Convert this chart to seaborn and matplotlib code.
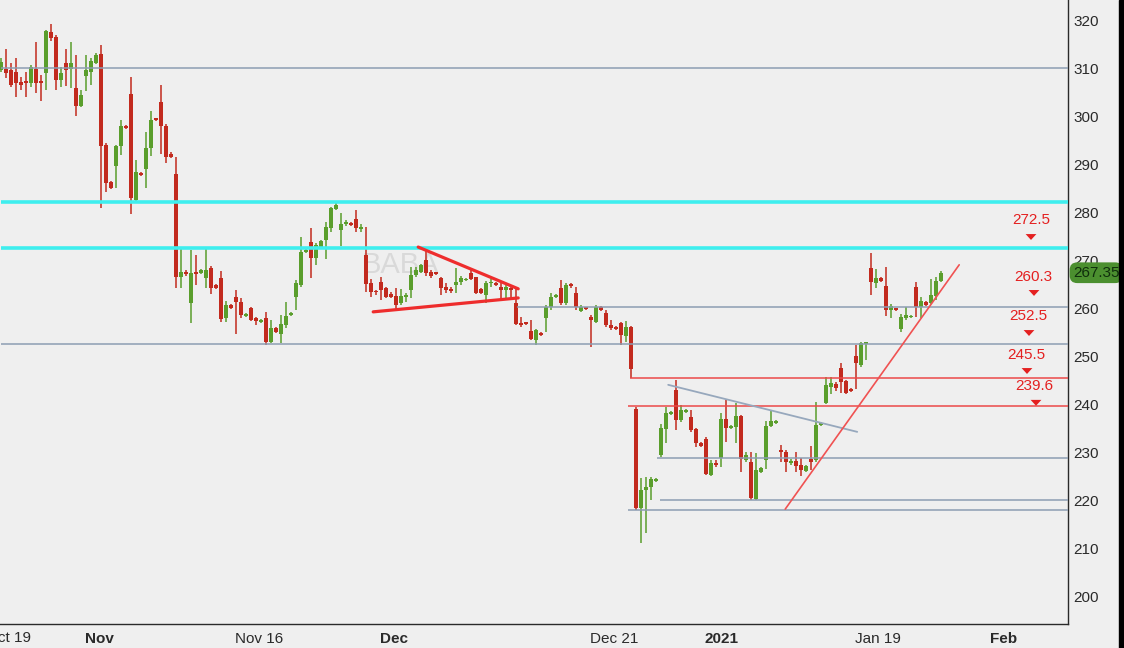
import numpy as np
import pandas as pd
import matplotlib
matplotlib.use("Agg")
import matplotlib.pyplot as plt
from matplotlib.patches import Rectangle
import matplotlib.transforms as mtransforms
import seaborn as sns

# ---------------- data (BABA, ~3 bars per trading day) ----------------
opens = [
    309.6, 309.8, 309.6, 309.2, 307.1, 307.3, 306.9, 309.8, 307.3, 309.0,
    317.5, 316.5, 307.5, 311.0, 309.8, 305.8, 302.1, 308.3, 309.2, 311.0,
    312.9, 294.0, 286.2, 289.6, 293.7, 297.9, 304.6, 282.5, 288.1, 289.0,
    293.3, 299.4, 302.9, 297.9, 292.1, 287.9, 266.5, 267.5, 261.0, 267.5,
    267.3, 266.2, 268.3, 264.8, 266.2, 257.9, 260.6, 262.3, 261.2, 258.3,
    260.0, 257.9, 257.1, 257.9, 252.9, 255.8, 254.6, 256.5, 258.5, 262.3,
    264.8, 271.7, 273.8, 270.4, 272.7, 274.2, 276.7, 280.6, 276.2, 277.5,
    277.7, 278.5, 276.5, 271.0, 265.2, 263.5, 265.4, 264.2, 262.9, 262.5,
    261.0, 262.3, 263.8, 266.9, 267.5, 270.0, 267.5, 267.3, 266.2, 264.4,
    264.0, 264.8, 265.4, 265.8, 267.3, 266.5, 264.0, 262.7, 265.2, 265.2,
    264.4, 263.8, 264.2, 261.0, 256.9, 256.9, 255.2, 253.3, 254.8, 257.9,
    260.2, 262.3, 264.2, 261.0, 264.8, 263.1, 259.4, 260.0, 258.1, 257.1,
    260.2, 259.0, 256.5, 256.0, 256.9, 254.2, 256.0, 239.0, 218.3, 222.1,
    222.7, 224.0, 229.4, 234.8, 237.9, 242.9, 236.7, 238.3, 237.3, 234.8,
    231.9, 232.7, 225.2, 227.7, 228.8, 236.9, 235.0, 235.2, 237.5, 228.3,
    227.9, 220.2, 225.8, 228.3, 235.4, 236.0, 230.4, 230.0, 227.7, 228.1,
    227.3, 226.0, 228.5, 228.3, 235.6, 240.2, 243.5, 244.2, 247.5, 244.8,
    243.1, 250.0, 248.1, 252.5, 268.3, 265.2, 266.2, 264.6, 259.6, 259.8,
    255.6, 257.9, 258.1, 264.4, 260.2, 261.2, 261.0, 262.5, 265.6,
]
highs = [
    312.1, 314.0, 311.0, 312.1, 308.1, 309.2, 310.6, 315.4, 308.5, 317.9,
    319.2, 316.9, 310.2, 314.0, 315.4, 312.7, 305.4, 312.7, 312.1, 313.1,
    314.8, 294.4, 286.5, 294.0, 299.2, 298.1, 308.1, 290.8, 288.3, 296.7,
    301.0, 299.6, 306.5, 298.3, 292.5, 291.5, 272.5, 267.9, 272.1, 271.0,
    268.1, 272.5, 268.8, 265.0, 267.7, 261.5, 260.8, 263.8, 262.1, 259.0,
    260.2, 258.1, 257.7, 259.2, 257.5, 256.0, 258.5, 261.2, 259.2, 265.8,
    274.8, 272.3, 276.7, 273.5, 274.2, 277.9, 281.0, 281.9, 279.8, 278.3,
    277.9, 280.4, 277.5, 276.9, 266.0, 263.8, 266.5, 264.4, 263.3, 264.2,
    264.0, 263.1, 268.5, 268.5, 269.2, 272.1, 267.9, 267.5, 266.5, 265.2,
    264.4, 268.3, 266.7, 266.2, 268.1, 266.5, 264.2, 265.6, 266.0, 265.4,
    265.4, 264.8, 264.4, 264.2, 258.1, 257.1, 257.5, 255.6, 255.0, 260.6,
    263.1, 262.9, 265.8, 265.2, 265.2, 264.4, 260.6, 260.2, 258.5, 260.6,
    260.4, 259.6, 257.5, 256.2, 257.1, 257.3, 256.2, 239.4, 224.6, 224.8,
    224.8, 224.6, 235.8, 239.4, 238.5, 245.0, 239.8, 239.0, 238.8, 235.0,
    232.1, 233.1, 228.3, 228.3, 238.1, 240.8, 235.6, 240.2, 237.7, 230.0,
    230.0, 229.8, 226.9, 236.5, 238.8, 236.7, 231.5, 230.4, 228.5, 230.0,
    228.8, 227.3, 231.2, 240.4, 236.2, 245.6, 245.6, 244.6, 248.5, 245.0,
    243.3, 252.3, 252.9, 252.9, 271.5, 268.1, 266.5, 268.5, 260.8, 260.0,
    258.8, 260.2, 258.5, 265.4, 262.3, 261.5, 266.0, 266.5, 267.7,
]
lows = [
    309.2, 307.9, 306.0, 304.0, 305.4, 304.0, 306.0, 304.8, 303.1, 305.4,
    315.6, 305.4, 306.0, 306.2, 305.8, 300.0, 301.9, 305.2, 306.5, 310.8,
    280.8, 284.2, 284.8, 285.0, 291.9, 297.3, 279.6, 282.1, 287.5, 285.0,
    291.7, 299.0, 292.1, 290.2, 291.2, 264.2, 264.2, 266.7, 256.9, 264.8,
    267.1, 264.2, 262.9, 264.0, 257.1, 257.1, 259.8, 254.6, 257.9, 258.1,
    257.3, 256.5, 256.9, 252.3, 252.7, 254.8, 252.7, 255.8, 258.3, 259.6,
    264.4, 271.5, 266.2, 269.0, 272.5, 270.2, 275.8, 280.4, 272.9, 277.1,
    277.1, 275.8, 275.8, 263.3, 262.3, 262.7, 261.7, 262.1, 262.1, 259.6,
    260.6, 261.2, 262.1, 266.5, 267.3, 266.7, 266.2, 266.9, 262.7, 263.1,
    263.1, 263.1, 264.8, 265.6, 265.8, 262.9, 262.9, 261.0, 264.4, 264.6,
    261.7, 262.1, 261.7, 256.5, 256.0, 256.5, 253.3, 252.3, 254.2, 255.0,
    259.6, 262.1, 260.6, 260.6, 264.2, 259.6, 259.2, 259.6, 251.9, 256.9,
    259.4, 256.0, 255.4, 255.4, 252.3, 252.9, 245.4, 217.9, 211.0, 213.1,
    220.0, 223.8, 229.0, 231.9, 237.7, 234.6, 236.2, 238.1, 234.2, 231.0,
    231.0, 225.2, 225.0, 226.9, 226.9, 232.1, 234.8, 231.9, 225.8, 227.9,
    220.0, 220.0, 225.6, 226.5, 235.2, 235.8, 227.9, 225.8, 227.3, 225.8,
    225.0, 225.8, 226.2, 227.9, 235.4, 240.0, 242.1, 242.7, 242.3, 242.1,
    242.5, 243.1, 247.7, 249.2, 262.7, 264.2, 265.4, 258.3, 257.9, 259.4,
    255.0, 257.5, 258.0, 258.1, 257.9, 260.4, 260.8, 261.7, 265.4,
]
closes = [
    311.2, 309.0, 306.5, 306.9, 306.5, 306.9, 310.2, 306.9, 306.9, 317.7,
    316.2, 307.5, 309.0, 309.6, 311.0, 302.1, 304.4, 309.6, 311.5, 312.7,
    293.7, 286.0, 285.0, 293.7, 297.9, 297.5, 282.9, 288.3, 287.7, 293.3,
    299.2, 299.2, 297.9, 291.5, 291.5, 266.5, 267.5, 267.1, 267.3, 267.1,
    267.9, 267.9, 264.2, 264.2, 257.7, 260.6, 260.0, 261.2, 258.5, 258.8,
    257.5, 257.3, 257.5, 252.9, 255.8, 255.0, 256.7, 258.3, 258.9, 265.2,
    271.7, 272.1, 270.4, 273.1, 273.9, 276.9, 280.8, 281.5, 277.5, 277.7,
    277.3, 276.7, 276.9, 265.0, 263.3, 263.3, 263.8, 262.3, 262.3, 260.6,
    262.5, 262.5, 266.9, 267.9, 269.0, 267.3, 266.7, 267.1, 264.2, 263.8,
    263.5, 265.4, 266.2, 266.0, 266.0, 263.1, 263.1, 265.2, 265.4, 264.8,
    263.8, 264.4, 263.8, 256.7, 256.5, 256.7, 253.5, 255.4, 254.4, 260.2,
    262.3, 262.7, 261.0, 264.8, 264.6, 260.2, 260.2, 259.8, 257.5, 260.2,
    259.6, 256.5, 255.8, 255.6, 254.4, 256.0, 247.3, 218.3, 222.1, 222.7,
    224.4, 224.4, 235.0, 238.1, 238.3, 236.7, 238.8, 238.8, 234.6, 231.9,
    231.2, 225.4, 227.7, 227.3, 236.9, 235.0, 235.4, 237.5, 228.5, 229.4,
    220.4, 226.2, 226.7, 235.4, 236.5, 236.5, 230.0, 227.9, 228.1, 227.1,
    226.2, 227.1, 227.9, 235.6, 236.0, 244.0, 244.4, 243.3, 244.6, 242.3,
    242.7, 248.5, 252.7, 252.7, 265.4, 266.2, 265.6, 259.6, 260.4, 259.6,
    258.1, 258.5, 258.3, 260.2, 261.5, 260.6, 262.7, 265.6, 267.35,
]
last_price = 267.35

tick_positions = [16.5, 46.5, 75.5, 117.5, 140.5, 170.5, 197.5]
tick_labels = ["Nov", "Nov 16", "Dec", "Dec 21", "2021", "Jan 19", "Feb"]
tick_bold = [True, False, True, False, True, False, True]
first_label = "Oct 19"

y_ticks = [200, 210, 220, 230, 240, 250, 260, 270, 280, 290, 300, 310, 320]

# horizontal support / resistance levels: value, first bar, kind
level_values = [310.0, 282.1, 272.5, 260.3, 252.5, 245.5, 239.6, 228.8, 220.0, 217.9]
level_start = [0, 0, 0, 103.3, 0, 125.9, 125.5, 131.3, 131.9, 125.5]
level_kind = ["gray", "cyan", "cyan", "gray", "gray", "red", "red", "gray", "gray", "gray"]

# annotated target levels on the right
target_values = [272.5, 260.3, 252.5, 245.5, 239.6]

# trend lines (bar index, price)
tri_upper_x, tri_upper_y = [83.5, 103.5], [272.7, 264.0]
tri_lower_x, tri_lower_y = [74.5, 103.5], [259.2, 262.1]
desc_x, desc_y = [133.5, 171.3], [244.0, 234.2]
asc_x, asc_y = [156.9, 191.7], [218.1, 269.0]

df = pd.DataFrame({"open": opens, "high": highs, "low": lows, "close": closes})
df["bar"] = np.arange(len(df))

# ---------------- style ----------------
BG = "#efefef"
sns.set_theme(style="white", rc={"axes.facecolor": BG, "figure.facecolor": BG})
plt.rcParams["font.family"] = ["Liberation Sans", "DejaVu Sans"]
NARROW = ["Liberation Sans Narrow", "Liberation Sans", "DejaVu Sans"]

W, H = 1124, 648
AX_W, AX_H = 1068, 624
fig = plt.figure(figsize=(W / 100, H / 100), dpi=100)
ax = fig.add_axes([0, 1 - AX_H / H, AX_W / W, AX_H / H])
ax.set_facecolor(BG)

x0 = -0.14
x1 = x0 + AX_W / 5.0
ax.set_xlim(x0, x1)
ax.set_ylim(194.17, 324.17)

UP, DOWN = "#5a9e2c", "#c22a1e"
colors = np.where(df["close"] >= df["open"], UP, DOWN)

# wicks
ax.vlines(df["bar"], df["low"], df["high"], colors=colors, linewidth=1.1, zorder=2)
# bodies
body_bottom = np.minimum(df["open"], df["close"])
body_h = np.maximum(np.abs(df["close"] - df["open"]), 0.32)
ax.bar(df["bar"], body_h, bottom=body_bottom, width=0.78, color=colors,
       linewidth=0, zorder=2.2)

# watermark
ax.text(80, 269.0, "BABA", fontsize=21, color="#d9d9d9", ha="center", va="center",
        zorder=1)

# horizontal levels
kind_style = {
    "gray": dict(color="#8c9db2", lw=1.1),
    "cyan": dict(color="#3feeee", lw=2.6),
    "red": dict(color="#ec4848", lw=1.1),
}
for v, s, k in zip(level_values, level_start, level_kind):
    ax.hlines(v, s, x1, zorder=3, **kind_style[k])

# trend lines
sns.lineplot(x=tri_upper_x, y=tri_upper_y, ax=ax, color="#ee2d2d", lw=2.3, zorder=4)
sns.lineplot(x=tri_lower_x, y=tri_lower_y, ax=ax, color="#ee2d2d", lw=2.3, zorder=4)
sns.lineplot(x=desc_x, y=desc_y, ax=ax, color="#97a8bd", lw=1.3, zorder=4)
sns.lineplot(x=asc_x, y=asc_y, ax=ax, color="#f05252", lw=1.2, zorder=4)

# right-hand target labels with down triangles (layout offsets in pixels)
txt_px_x = [1031, 1033, 1028, 1026, 1034]
txt_px_dy = [28, 29.6, 28, 22.6, 20.1]
tri_px_x = [1031, 1034, 1029, 1027, 1036]
tri_px_dy = [11, 13.6, 11, 6.6, 3.1]
for v, tx, tdy in zip(target_values, txt_px_x, txt_px_dy):
    ax.annotate(f"{v}", xy=(tx / AX_W, v), xycoords=("axes fraction", "data"),
                xytext=(0, tdy), textcoords="offset pixels", ha="center",
                va="center", color="#e42020", fontsize=11, zorder=6)
tri_df = pd.DataFrame({
    "x": [x0 + px / 5.0 for px in tri_px_x],
    "y": [v + dy / 4.8 for v, dy in zip(target_values, tri_px_dy)],
})
tri_marker = [(-1, 0.55), (1, 0.55), (0, -0.55)]
sns.scatterplot(data=tri_df, x="x", y="y", ax=ax, marker=tri_marker, s=60,
                color="#e42020", edgecolor="none", zorder=6, legend=False)

# axes & ticks
for side in ["left", "top"]:
    ax.spines[side].set_visible(False)
for side in ["right", "bottom"]:
    ax.spines[side].set_visible(True)
    ax.spines[side].set_color("#2a2a2a")
    ax.spines[side].set_linewidth(1.0)

ax.yaxis.tick_right()
ax.set_yticks(y_ticks)
ax.set_yticklabels([str(t) for t in y_ticks])
ax.tick_params(axis="y", length=0, pad=4, labelsize=11, labelcolor="#2a2a2a")

ax.set_xticks(tick_positions)
ax.set_xticklabels(tick_labels)
ax.tick_params(axis="x", length=4, width=1, color="#444444", pad=2,
               labelsize=11, labelcolor="#2a2a2a", direction="out")
shift = mtransforms.ScaledTranslation(1.5 / 100, 0, fig.dpi_scale_trans)
for lab, b in zip(ax.get_xticklabels(), tick_bold):
    lab.set_horizontalalignment("left")
    lab.set_family(NARROW)
    lab.set_fontweight("bold" if b else "normal")
    lab.set_transform(lab.get_transform() + shift)
ax.set_xlabel("")
ax.set_ylabel("")
ax.grid(False)

# first (clipped) date label
ax.text(-14 / AX_W, -0.012, first_label, transform=ax.transAxes, ha="left", va="top",
        fontsize=11, color="#2a2a2a", family=NARROW, clip_on=False)

# last price tag
ax.annotate(f"{last_price:.2f}", xy=(1.0, last_price), xycoords=("axes fraction", "data"),
            xytext=(5, 0), textcoords="offset pixels", ha="left", va="center",
            fontsize=11, color="#0f2e0c", annotation_clip=False, zorder=10,
            bbox=dict(boxstyle="round,pad=0.22,rounding_size=0.5", fc="#4b8f2f",
                      ec="none"))

# black strip at right edge of the screenshot
fig.add_artist(Rectangle((1119 / W, 0), 5 / W, 1, transform=fig.transFigure,
                         color="black", zorder=20))

fig.savefig("out.png", dpi=100, facecolor=BG)
